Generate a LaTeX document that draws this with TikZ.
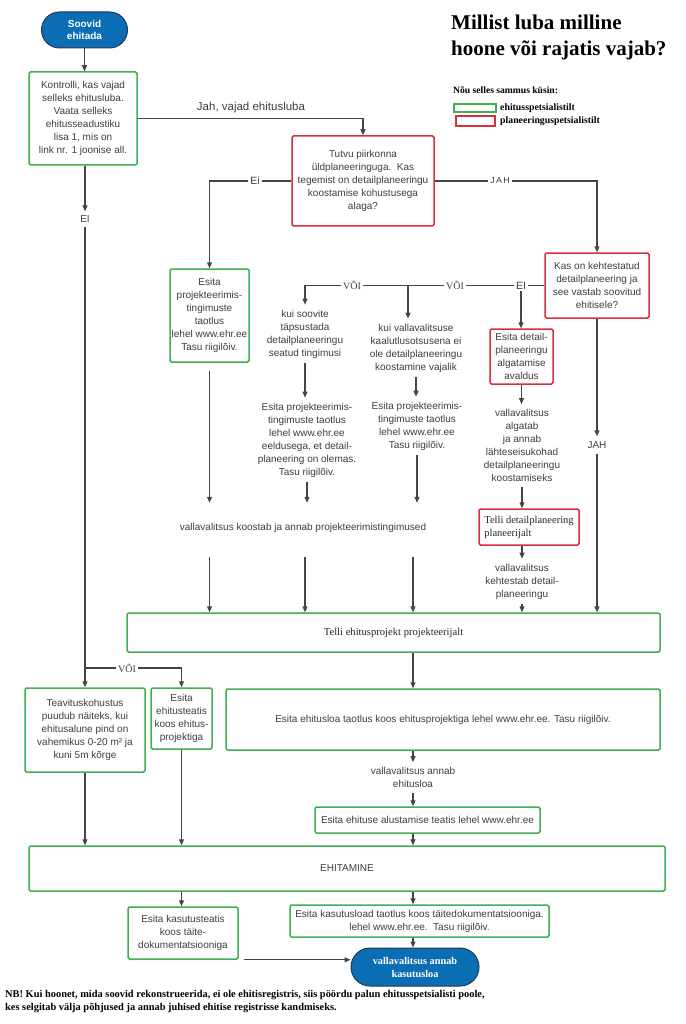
\documentclass[tikz,border=0pt]{standalone}
\usepackage{fontspec}
\setmainfont{Liberation Sans}
\newfontfamily\seriff{Liberation Serif}
\usetikzlibrary{arrows.meta,shapes.misc}
\definecolor{gr}{HTML}{41B04F}
\definecolor{rd}{HTML}{D7303A}
\definecolor{bl}{HTML}{0B6DB4}
\definecolor{bld}{HTML}{1E3B55}
\definecolor{ln}{HTML}{444444}
\definecolor{tx}{HTML}{3E3E3E}
\begin{document}
\begin{tikzpicture}[x=1pt,y=-1pt,
  base/.style={font=\fontsize{10}{13}\selectfont, text=tx, align=center, inner sep=0pt},
  gbox/.style={base, draw=gr, line width=1.5pt, fill=white, rounded corners=1.5pt},
  rbox/.style={base, draw=rd, line width=1.5pt, fill=white, rounded corners=1.5pt},
  txt/.style={base, inner xsep=2pt, inner ysep=5pt},
  lbl/.style={base, inner sep=2pt},
  serlbl/.style={lbl, font=\seriff\fontsize{10}{12}\selectfont},
  term/.style={rounded rectangle, draw=bld, line width=1pt, fill=bl, text=white, align=center, inner sep=0pt},
  con/.style={draw=ln, line width=1.1pt},
  arr/.style={con, -{Triangle[length=6pt,width=5pt]}},
  legtxt/.style={anchor=west, inner sep=0pt, font=\seriff\bfseries\fontsize{9.8}{11}\selectfont}
]
\fill[white] (0,0) rectangle (685,1024);
\useasboundingbox (0,0) rectangle (685,1024);
\coordinate (colx) at (413,0);

% title and legend
\node[anchor=north west, inner sep=0pt, align=left, font=\seriff\bfseries\fontsize{21}{26}\selectfont] (title) at (451,14.5) {Millist luba milline\\hoone või rajatis vajab?};
\node[legtxt, font=\seriff\bfseries\fontsize{9.6}{11}\selectfont] (leghead) at (453,90) {Nõu selles sammus küsin:};
\node[draw=gr, line width=1.5pt, minimum width=42pt, minimum height=8pt, inner sep=0pt] (leggr) at (475,108) {};
\node[draw=rd, line width=1.5pt, minimum width=39pt, minimum height=10pt, inner sep=0pt] (legrd) at (475.5,121) {};
\node[legtxt] (leggrt) at (500,108) {ehitusspetsialistilt};
\node[legtxt] (legrdt) at (500,121) {planeeringuspetsialistilt};

% top
\node[term, minimum width=86pt, minimum height=36pt, font=\bfseries\fontsize{10}{12.5}\selectfont] (start) at (84.5,30) {Soovid\\ehitada};
\node[gbox, minimum width=108pt, minimum height=93pt] (kontrolli) at (83,118.5) {Kontrolli, kas vajad\\selleks ehitusluba.\\Vaata selleks\\ehitusseadustiku\\lisa 1, mis on\\link nr. 1 joonise all.};
\node[base, font=\fontsize{11.5}{13}\selectfont] (jahlbl) at (251,108) {Jah, vajad ehitusluba};
\node[rbox, minimum width=142pt, minimum height=90pt] (tutvu) at (363,181) {Tutvu piirkonna\\üldplaneeringuga.\ \ Kas\\tegemist on detailplaneeringu\\koostamise kohustusega\\alaga?};
\node[lbl, font=\fontsize{10.5}{12}\selectfont] (ei0) at (255,181) {Ei};
\node[lbl, font=\fontsize{8.8}{10}\selectfont\addfontfeature{LetterSpace=15}] (jah1) at (500,181) {JAH};
\node[gbox, minimum width=79pt, minimum height=93pt] (esitapt) at (209.5,315.5) {Esita\\projekteerimis-\\tingimuste\\taotlus\\lehel www.ehr.ee\\Tasu riigilõiv.};
\node[rbox, minimum width=104pt, minimum height=65pt] (kas) at (597,285.5) {Kas on kehtestatud\\detailplaneering ja\\see vastab soovitud\\ehitisele?};
\node[lbl, font=\fontsize{10.5}{12}\selectfont] (ei2) at (521,285.5) {EI};
\node[serlbl] (voi2) at (455,285.5) {VÕI};
\node[serlbl] (voi1) at (352,285.5) {VÕI};
\coordinate (jB) at (408,285.5);

% middle columns
\node[txt] (kuis) at (305,334) {kui soovite\\täpsustada\\detailplaneeringu\\seatud tingimusi};
\node[txt] (esita1) at (307,440) {Esita projekteerimis-\\tingimuste taotlus\\lehel www.ehr.ee\\eeldusega, et detail-\\planeering on olemas.\\Tasu riigilõiv.};
\node[txt] (kuiv) at (416,348) {kui vallavalitsuse\\kaalutlusotsusena ei\\ole detailplaneeringu\\koostamine vajalik};
\node[txt] (esita2) at (417,426) {Esita projekteerimis-\\tingimuste taotlus\\lehel www.ehr.ee\\Tasu riigilõiv.};
\node[base, minimum height=50pt] (vkoos) at (303,528) {vallavalitsus koostab ja annab projekteerimistingimused};
\node[rbox, minimum width=63pt, minimum height=55pt] (esitadp) at (521.5,356.5) {Esita detail-\\planeeringu\\algatamise\\avaldus};
\node[txt] (valg) at (522,445.5) {vallavalitsus\\algatab\\ja annab\\lähteseisukohad\\detailplaneeringu\\koostamiseks};
\node[rbox, minimum width=100pt, minimum height=36pt, font=\seriff\fontsize{10.5}{13}\selectfont, align=left, text=black!85] (tellidp) at (529,527) {Telli detailplaneering\\planeerijalt};
\node[txt] (vkeh) at (522,581.5) {vallavalitsus\\kehtestab detail-\\planeeringu};
\node[lbl, inner sep=5pt] (jah2) at (597,445) {JAH};
\node[gbox, minimum width=533pt, minimum height=39pt, font=\seriff\fontsize{10.6}{12}\selectfont, text=black!85] (telliep) at (393.5,632.5) {Telli ehitusprojekt projekteerijalt};

% left column and lower part
\node[lbl, inner sep=4pt] (ei1) at (85,219) {EI};
\coordinate (jvoi) at (85,668);
\node[serlbl] (voi3) at (127,668) {VÕI};
\node[gbox, minimum width=120pt, minimum height=84pt] (teav) at (85,730) {Teavituskohustus\\puudub näiteks, kui\\ehitusalune pind on\\vahemikus 0-20 m² ja\\kuni 5m kõrge};
\node[gbox, minimum width=61pt, minimum height=61pt] (esitaet) at (181.5,718.5) {Esita\\ehitusteatis\\koos ehitus-\\projektiga};
\node[gbox, minimum width=434pt, minimum height=61pt] (esitael) at (443,719.5) {Esita ehitusloa taotlus koos ehitusprojektiga lehel www.ehr.ee. Tasu riigilõiv.};
\node[txt] (vann) at (413,777.5) {vallavalitsus annab\\ehitusloa};
\node[gbox, minimum width=225pt, minimum height=26pt] (alust) at (427.5,820) {Esita ehituse alustamise teatis lehel www.ehr.ee};
\node[gbox, minimum width=636pt, minimum height=45pt] (ehit) at (347,868.5) {EHITAMINE};
\node[gbox, minimum width=110pt, minimum height=52pt] (kteat) at (183,933) {Esita kasutusteatis\\koos täite-\\dokumentatsiooniga};
\node[gbox, minimum width=259pt, minimum height=32pt] (kloa) at (419.5,921) {Esita kasutusload taotlus koos täitedokumentatsiooniga.\\lehel www.ehr.ee.\ \ Tasu riigilõiv.};
\node[term, minimum width=128pt, minimum height=38pt, font=\seriff\bfseries\fontsize{10.3}{13}\selectfont] (term2) at (415,967) {vallavalitsus annab\\kasutusloa};
\node[anchor=north west, inner sep=0pt, align=left, font=\seriff\bfseries\fontsize{10.4}{13.5}\selectfont] (nb) at (5,990) {NB! Kui hoonet, mida soovid rekonstrueerida, ei ole ehitisregistris, siis pöördu palun ehitusspetsialisti poole,\\kes selgitab välja põhjused ja annab juhised ehitise registrisse kandmiseks.};

% connectors
\draw[arr] (start.south) -- (start.south |- kontrolli.north);
\draw[arr] (kontrolli.east) -| (tutvu.north);
\draw[con] (tutvu.west) -- (tutvu.west -| ei0.east);
\draw[arr] (tutvu.west -| ei0.west) -| (esitapt.north);
\draw[con] (tutvu.east) -- (tutvu.east -| jah1.west);
\draw[arr] (tutvu.east -| jah1.east) -| (kas.north);
\draw[con] (kas.west) -- (kas.west -| ei2.east);
\draw[con] (kas.west -| ei2.west) -- (kas.west -| voi2.east);
\draw[con] (kas.west -| voi2.west) -- (kas.west -| voi1.east);
\draw[arr] (kas.west -| voi1.west) -| (kuis.north);
\draw[arr] (jB) -- (jB |- kuiv.north);
\draw[arr] (ei2.south) -- (ei2.south |- esitadp.north);
\draw[arr] (kuis.south) -- (kuis.south |- esita1.north);
\draw[arr] (esita1.south) -- (esita1.south |- vkoos.north);
\draw[arr] (kuiv.south) -- (kuiv.south |- esita2.north);
\draw[arr] (esita2.south) -- (esita2.south |- vkoos.north);
\draw[arr, shorten <=8pt] (esitapt.south) -- (esitapt.south |- vkoos.north);
\draw[arr, shorten <=4pt] (vkoos.south -| esitapt.south) -- (esitapt.south |- telliep.north);
\draw[arr, shorten <=4pt] (vkoos.south -| kuis.south) -- (kuis.south |- telliep.north);
\draw[arr, shorten <=4pt] (vkoos.south -| colx) -- (colx |- telliep.north);
\draw[arr] (esitadp.south) -- (esitadp.south |- valg.north);
\draw[arr] (valg.south) -- (valg.south |- tellidp.north);
\draw[arr] (valg.south |- tellidp.south) -- (vkeh.north);
\draw[arr] (vkeh.south) -- (vkeh.south |- telliep.north);
\draw[arr] (kas.south) -- (jah2.north);
\draw[arr] (jah2.south) -- (jah2.south |- telliep.north);
\draw[arr] (kontrolli.south -| ei1) -- (ei1.north);
\draw[con] (ei1.south) -- (jvoi);
\draw[arr] (jvoi) -- (teav.north);
\draw[con] (jvoi) -- (voi3.west);
\draw[arr] (voi3.east) -| (esitaet.north);
\draw[arr] (teav.south) -- (teav.south |- ehit.north);
\draw[arr] (esitaet.south) -- (esitaet.south |- ehit.north);
\draw[arr] (telliep.south -| colx) -- (colx |- esitael.north);
\draw[arr] (esitael.south -| colx) -- (vann.north);
\draw[arr] (vann.south) -- (vann.south |- alust.north);
\draw[arr] (alust.south -| colx) -- (colx |- ehit.north);
\draw[arr] (ehit.south -| esitaet.south) -- (esitaet.south |- kteat.north);
\draw[arr] (ehit.south -| colx) -- (colx |- kloa.north);
\draw[arr] (kloa.south -| colx) -- (colx |- term2.north);
\draw[arr, shorten <=5pt] (kteat.south east) -- (kteat.south east -| term2.west);
\end{tikzpicture}
\end{document}
